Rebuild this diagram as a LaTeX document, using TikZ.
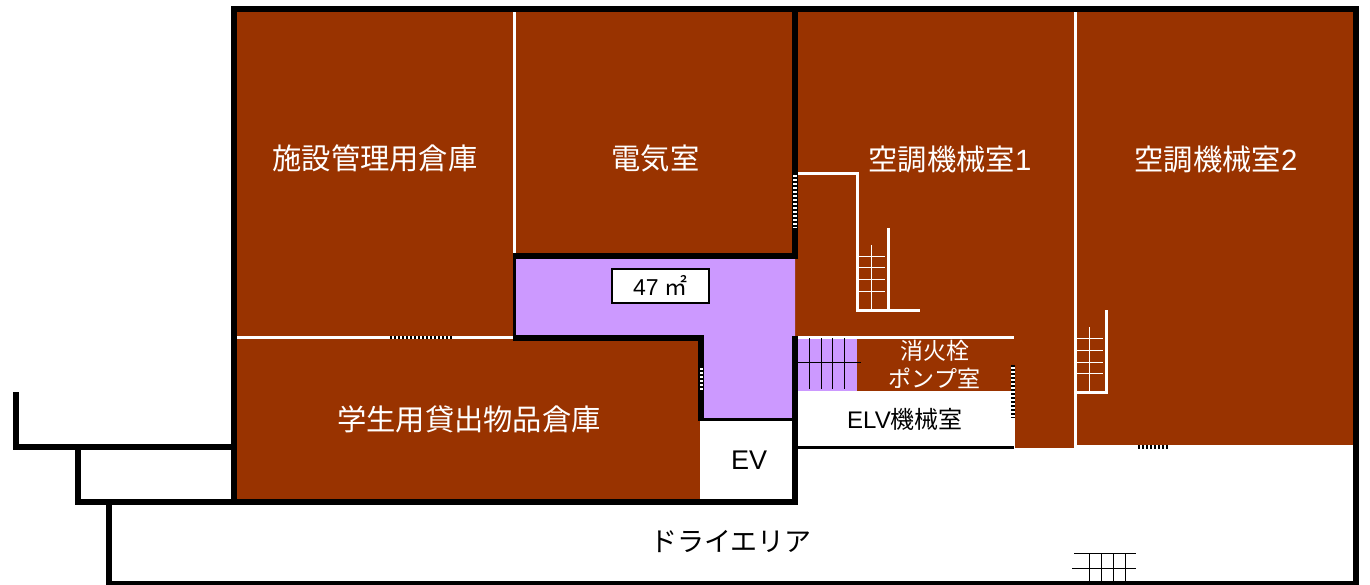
\documentclass[tikz,border=0pt]{standalone}
\usepackage{fontspec}
\setmainfont{Liberation Sans}
\newfontfamily\jpfont{Noto Sans CJK JP}
\definecolor{roombrown}{HTML}{993300}
\definecolor{hallpurple}{HTML}{CC99FF}
\tikzset{
    wall/.style={line width=6,line cap=butt,line join=miter},
    thinwall/.style={line width=3,white},
    tread/.style={line width=1,white},
    gridline/.style={line width=1,black},
    doorbase/.style={line width=4,white},
    doorstripe/.style={line width=4,black,dash pattern=on 2 off 2},
    roomlabel/.style={inner sep=0,font=\fontsize{29.3}{29.3}\selectfont\jpfont,white},
    smalllabel/.style={inner sep=0,font=\fontsize{23}{23}\selectfont\jpfont,white},
}
\begin{document}
\begin{tikzpicture}[x=1pt,y=-1pt]
            \useasboundingbox (0,0) rectangle (1370,585);
            % rooms
            \fill[roombrown] (234,9) rectangle (1356,445);
            \fill[roombrown] (234,445) rectangle (701,502);
            \fill[roombrown] (1015,445) rectangle (1075,448);
            \fill[white] (798,391) rectangle (1015,447);
            \fill[hallpurple] (514,256) -- (795,256) -- (795,420) -- (701,420) -- (701,338) -- (514,338) -- cycle;
            \fill[hallpurple] (795,339) rectangle (857,391);
            \fill[white] (700,421) rectangle (795,502);
            % partitions
            \draw[thinwall] (514.5,12) -- (514.5,254);
            \draw[thinwall] (1075.5,12) -- (1075.5,448);
            \draw[thinwall] (237,337.5) -- (514,337.5);
            \draw[thinwall] (797,337.5) -- (1014,337.5);
            % stairs
            \draw[thinwall] (797,173.5) -- (857.5,173.5) -- (857.5,310.5) -- (920,310.5);
            \draw[thinwall] (888.5,228) -- (888.5,310);
            \draw[thinwall] (1106.5,310) -- (1106.5,392.5) -- (1076,392.5);
            \foreach \y in {256.5,268,280,291.5} {
                \draw[tread] (859,\y) -- (885,\y);
            }
            \draw[tread] (871.5,245) -- (871.5,310);
            \foreach \y in {338.5,350,362,373.5} {
                \draw[tread] (1077,\y) -- (1103,\y);
            }
            \draw[tread] (1089.5,327) -- (1089.5,392);
            \foreach \x in {809,821,832.5,844} {
                \draw[gridline] (\x,338) -- (\x,389);
            }
            \draw[gridline] (797,362.5) -- (861,362.5);
            \foreach \x in {1089.5,1101.5,1113,1125} {
                \draw[gridline] (\x,553) -- (\x,581);
            }
            \draw[gridline] (1074,553.5) -- (1136,553.5);
            \draw[gridline] (1072,568) -- (1136,568);
            % walls
            \draw[wall] (234,502) -- (234,9) -- (1356,9) -- (1356,584) -- (109,584) -- (109,502);
            \draw[wall] (795,9) -- (795,259);
            \draw[wall] (798,256) -- (513,256);
            \draw[line width=3] (514.5,253) -- (514.5,341);
            \draw[wall] (513,338) -- (701,338) -- (701,421);
            \draw[line width=3] (701,419.5) -- (798,419.5);
            \draw[wall] (795,336) -- (795,502);
            \draw[wall] (78,502) -- (798,502);
            \draw[wall] (16,392) -- (16,447) -- (234,447);
            \draw[wall] (78,447) -- (78,505);
            \draw[line width=3] (795,447.5) -- (1014,447.5);
            % doors
            \foreach \xa/\ya/\xb/\yb/\w in {795/173/795/228/4, 701.5/366/701.5/392/3, 1013/365/1013/418/4, 390/337.5/452/337.5/3, 1138/447/1168/447/4} {
                \draw[doorbase,line width=\w] (\xa,\ya) -- (\xb,\yb);
                \draw[doorstripe,line width=\w] (\xa,\ya) -- (\xb,\yb);
            }
            % labels
            \foreach \name/\x/\y/\text in {store/375/158/施設管理用倉庫, elec/655.5/158/電気室,
            ac1/950/159/空調機械室{\rmfamily 1}, ac2/1216/159/空調機械室{\rmfamily 2}, lend/469/419/学生用貸出物品倉庫}
            {
                \node[roomlabel] (\name) at (\x,\y) {\text};
            }
            \node[smalllabel] (pump1) at (935,351) {消火栓};
            \node[smalllabel] (pump2) at (934.5,378) {ポンプ室};
            \node[inner sep=0,font=\fontsize{24}{24}\selectfont] (elv) at (905,419) {ELV{\jpfont 機械室}};
            \node[inner sep=0,font=\fontsize{27}{27}\selectfont] (ev) at (749,460) {EV};
            \node[inner sep=0,font=\fontsize{27}{27}\selectfont\jpfont] (dry) at (731,542) {ドライエリア};
            \node[draw,line width=2,fill=white,minimum width=97,minimum height=34,inner sep=0,font=\fontsize{23}{23}\selectfont] (area) at (660.5,286) {\raisebox{1pt}{47 {\jpfont ㎡}}};
        \end{tikzpicture}
\end{document}
